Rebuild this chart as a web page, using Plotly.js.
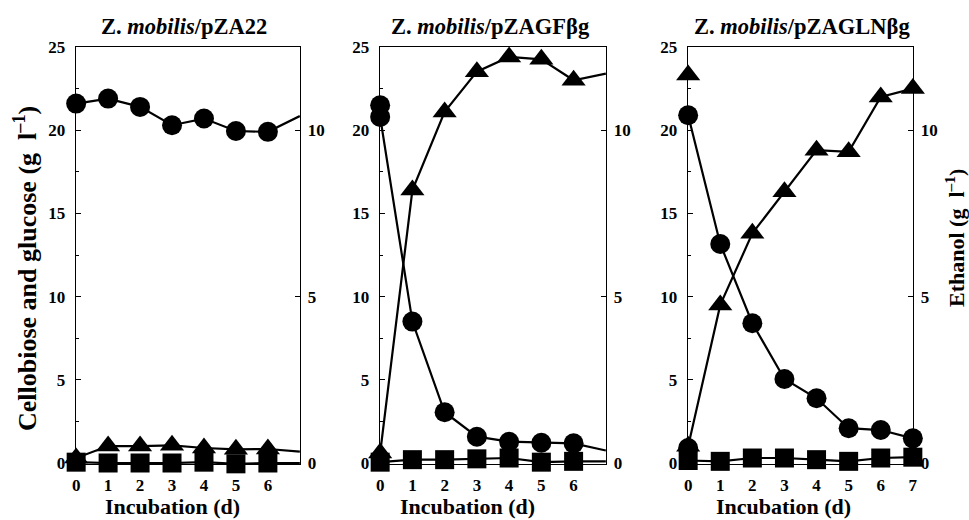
<!DOCTYPE html>
<html>
<head>
<meta charset="utf-8">
<script src="https://cdn.plot.ly/plotly-3.0.1.min.js"></script>
<style>html,body{margin:0;padding:0;background:#fff;}#chart{width:969px;height:520px;}</style>
</head>
<body>
<div id="chart"></div>
<script>
// ---- data ----
const days = [0, 1, 2, 3, 4, 5, 6, 7];
const dayTicks = ['0', '1', '2', '3', '4', '5', '6', '7'];
const panelTitles = ['Z. <i>mobilis</i>/pZA22', 'Z. <i>mobilis</i>/pZAGFβg', 'Z. <i>mobilis</i>/pZAGLNβg'];

// Z. mobilis/pZA22 (day-7 value: line runs on to the frame edge, no marker drawn)
const cellobiose1 = [21.6, 21.9, 21.4, 20.3, 20.7, 19.95, 19.9, 20.85];
const glucose1    = [0.05, 0.0, 0.0, 0.0, 0.05, -0.05, 0.0, 0.0];
const ethanol1    = [0.15, 0.51, 0.51, 0.53, 0.45, 0.41, 0.42, 0.34];

// Z. mobilis/pZAGFβg
const cellobiose2 = [20.8, 8.5, 3.05, 1.58, 1.28, 1.22, 1.18, 0.75];
const glucose2    = [0.05, 0.2, 0.2, 0.25, 0.3, 0.05, 0.1, 0.1];
const ethanol2    = [0.3, 8.2, 10.55, 11.76, 12.2, 12.13, 11.5, 11.7];
const extraCircle2 = [21.5];       // second circle at day 0

// Z. mobilis/pZAGLNβg
const cellobiose3 = [20.9, 13.16, 8.4, 5.05, 3.89, 2.09, 1.98, 1.48];
const glucose3    = [0.15, 0.1, 0.3, 0.3, 0.2, 0.1, 0.3, 0.35];
const ethanol3    = [0.5, 4.75, 6.9, 8.15, 9.4, 9.35, 11.0, 11.25];
const extraCircle3 = [0.9];        // second circle at day 0
const extraTriangle3 = [11.66];    // second triangle at day 0

// ---- styling ----
const FONT = 'Liberation Serif, Times New Roman, serif';
const LW = 2.2;
const CS = 20, SS = 19, TS = 21;

function lineTrace(x, y, xa, ya) {
  return {
    x: x, y: y, xaxis: xa, yaxis: ya, type: 'scatter', mode: 'lines',
    cliponaxis: false, showlegend: false, hoverinfo: 'skip',
    line: {color: '#000', width: LW}
  };
}
function markTrace(x, y, xa, ya, symbol, size) {
  return {
    x: x, y: y, xaxis: xa, yaxis: ya, type: 'scatter', mode: 'markers',
    cliponaxis: false, showlegend: false, hoverinfo: 'skip',
    marker: {symbol: symbol, color: '#000', opacity: 1, size: size, line: {width: 0}}
  };
}

const d7 = days.slice(0, 7);
const traces = [
  // panel 1 : ethanol (main right axis), sugars (overlay left axis)
  lineTrace(days, ethanol1, 'x', 'y'),
  markTrace(d7, ethanol1.slice(0, 7), 'x', 'y', 'triangle-up', TS),
  lineTrace(days, cellobiose1, 'x', 'y2'),
  lineTrace(days, glucose1, 'x', 'y2'),
  markTrace(d7, cellobiose1.slice(0, 7), 'x', 'y2', 'circle', CS),
  markTrace(d7, glucose1.slice(0, 7), 'x', 'y2', 'square', SS),
  // panel 2
  lineTrace(days, ethanol2, 'x2', 'y3'),
  markTrace(d7, ethanol2.slice(0, 7), 'x2', 'y3', 'triangle-up', TS),
  lineTrace(days, cellobiose2, 'x2', 'y4'),
  lineTrace(days, glucose2, 'x2', 'y4'),
  markTrace([0], extraCircle2, 'x2', 'y4', 'circle', CS),
  markTrace(d7, cellobiose2.slice(0, 7), 'x2', 'y4', 'circle', CS),
  markTrace(d7, glucose2.slice(0, 7), 'x2', 'y4', 'square', SS),
  // panel 3
  lineTrace(days, ethanol3, 'x3', 'y5'),
  markTrace([0], extraTriangle3, 'x3', 'y5', 'triangle-up', TS),
  markTrace(days, ethanol3, 'x3', 'y5', 'triangle-up', TS),
  lineTrace(days, cellobiose3, 'x3', 'y6'),
  lineTrace(days, glucose3, 'x3', 'y6'),
  markTrace([0], extraCircle3, 'x3', 'y6', 'circle', CS),
  markTrace(days, cellobiose3, 'x3', 'y6', 'circle', CS),
  markTrace(days, glucose3, 'x3', 'y6', 'square', SS)
];

// plot frame: top 47 px, value 0 at 463 px; a tiny pad below 0 keeps
// slightly negative readings inside the range (1 unit = 16.64 px)
const PAD = 0.055;
const yBottomPx = 463 + PAD * 16.64;
const yDom = [(520 - yBottomPx) / 520, 473 / 520];
const tickFont = {family: FONT, size: 17, color: '#000', weight: 'bold'};
const AXLW = 1.3;

function xAxis(dom, anchor, nTicks) {
  return {
    domain: dom, anchor: anchor, range: [-0.005, 7.005], showline: true, mirror: true,
    linecolor: '#000', linewidth: AXLW, ticks: '', showgrid: false, zeroline: false,
    tickmode: 'array', tickvals: days.slice(0, nTicks), ticktext: dayTicks.slice(0, nTicks),
    tickfont: tickFont, ticklabelstandoff: 5, fixedrange: true
  };
}
function yEthanol(anchor) {
  return {
    domain: yDom, anchor: anchor, side: 'right', range: [-PAD / 2, 12.5], showline: true,
    linecolor: '#000', linewidth: AXLW, ticks: 'inside', ticklen: 5, tickwidth: 1.2, tickcolor: '#000',
    tick0: 0, dtick: 5, showgrid: false, zeroline: false, tickfont: tickFont,
    ticklabelstandoff: 3, fixedrange: true
  };
}
function ySugar(anchor, overlay) {
  return {
    overlaying: overlay, anchor: anchor, side: 'left', range: [-PAD, 25], showline: true,
    linecolor: '#000', linewidth: AXLW, ticks: 'inside', ticklen: 5, tickwidth: 1.2, tickcolor: '#000',
    tick0: 0, dtick: 5, showgrid: false, zeroline: false, tickfont: tickFont,
    minor: {ticks: 'inside', ticklen: 3, tickwidth: 1, tickcolor: '#000', dtick: 2.5, tick0: 0, showgrid: false},
    ticklabelstandoff: 6, fixedrange: true
  };
}

const titleFont = {family: FONT, size: 22.5, color: '#000', weight: 'bold'};
const axTitleFont = {family: FONT, size: 22, color: '#000', weight: 'bold'};
function ann(text, xpx, ypx, font, angle) {
  return {
    text: text, xref: 'paper', yref: 'paper', x: xpx / 969, y: 1 - ypx / 520,
    xanchor: 'center', yanchor: 'middle', showarrow: false, font: font, textangle: angle || 0
  };
}

const layout = {
  width: 969, height: 520, margin: {l: 0, r: 0, t: 0, b: 0},
  paper_bgcolor: '#fff', plot_bgcolor: 'rgba(0,0,0,0)', showlegend: false,
  font: {family: FONT, color: '#000'},
  xaxis: xAxis([76 / 969, 300 / 969], 'y', 7),
  xaxis2: xAxis([380 / 969, 606 / 969], 'y3', 7),
  xaxis3: xAxis([688 / 969, 913 / 969], 'y5', 8),
  yaxis: yEthanol('x'),
  yaxis2: ySugar('x', 'y'),
  yaxis3: yEthanol('x2'),
  yaxis4: ySugar('x2', 'y3'),
  yaxis5: yEthanol('x3'),
  yaxis6: ySugar('x3', 'y5'),
  annotations: [
    ann(panelTitles[0], 184, 26, titleFont),
    ann(panelTitles[1], 490, 26, titleFont),
    ann(panelTitles[2], 802, 26, titleFont),
    ann('Incubation (d)', 172, 506, axTitleFont),
    ann('Incubation (d)', 467, 506, axTitleFont),
    ann('Incubation (d)', 783, 506, axTitleFont),
    ann('Cellobiose and glucose (g\u00a0\u00a0l<sup>\u20131</sup>)', 25, 269, {family: FONT, size: 26, color: '#000', weight: 'bold'}, -90),
    ann('Ethanol (g\u00a0\u00a0l<sup>\u20131</sup>)', 955, 238, {family: FONT, size: 22, color: '#000', weight: 'bold'}, -90)
  ]
};

Plotly.newPlot('chart', traces, layout, {staticPlot: true, displayModeBar: false});
</script>
</body>
</html>
